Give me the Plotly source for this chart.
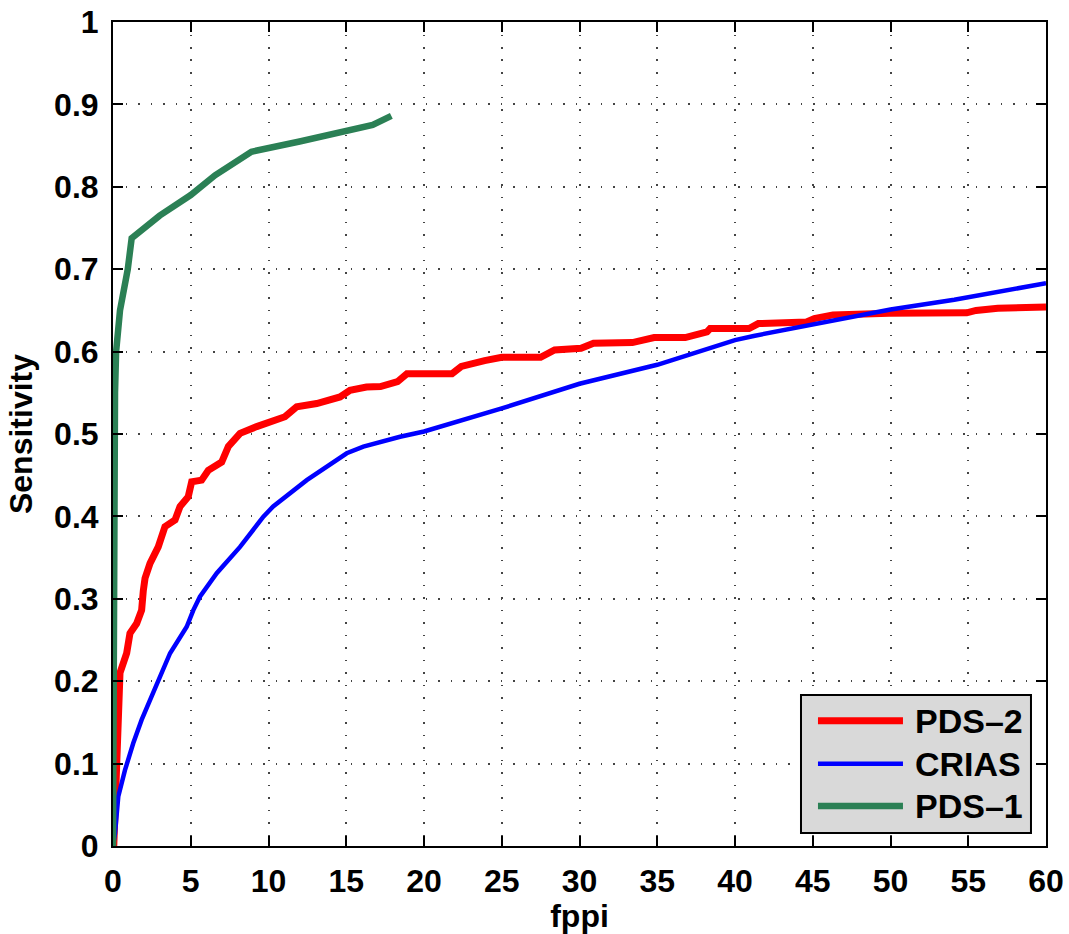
import plotly.graph_objects as go

# ---- data ----
pds2_x = [0.05, 0.13, 0.34, 0.40, 0.45, 0.88, 1.09, 1.52, 1.84, 1.95, 2.06, 2.38, 2.91, 3.34, 3.99,
          4.31, 4.84, 5.06, 5.70, 6.13, 6.99, 7.42, 8.17, 9.24, 10.31, 11.06, 11.81, 13.10, 14.60,
          15.24, 16.30, 17.20, 18.30, 18.90, 21.80, 22.40, 23.90, 25.00, 27.50, 28.40, 30.10, 30.90,
          33.40, 34.80, 36.80, 38.20, 38.40, 40.90, 41.50, 44.60, 45.10, 46.30, 49.90, 54.90, 55.50,
          56.90, 60.00]
pds2_y = [0.000, 0.040, 0.1125, 0.161, 0.210, 0.234, 0.258, 0.270, 0.286, 0.310, 0.325, 0.343, 0.363,
          0.3875, 0.3956, 0.412, 0.424, 0.442, 0.444, 0.456, 0.466, 0.485, 0.5008, 0.509, 0.515,
          0.521, 0.533, 0.537, 0.545, 0.553, 0.557, 0.5575, 0.5636, 0.573, 0.573, 0.582, 0.589,
          0.593, 0.593, 0.602, 0.604, 0.610, 0.611, 0.617, 0.617, 0.624, 0.628, 0.628, 0.634,
          0.636, 0.640, 0.6445, 0.6465, 0.647, 0.650, 0.6526, 0.654]

crias_x = [0.00, 0.13, 0.34, 0.77, 1.30, 1.84, 2.38, 2.91, 3.67, 4.74, 5.16, 5.59, 6.67, 8.17, 9.67,
           10.30, 12.46, 15.03, 16.10, 18.46, 20.00, 25.00, 30.00, 35.00, 40.00, 41.20, 45.05,
           50.00, 54.10, 60.00]
crias_y = [0.000, 0.0154, 0.060, 0.092, 0.1246, 0.153, 0.177, 0.2015, 0.234, 0.266, 0.286, 0.3026,
           0.331, 0.363, 0.3997, 0.412, 0.444, 0.4766, 0.4846, 0.4967, 0.503, 0.531, 0.561, 0.584,
           0.614, 0.619, 0.6336, 0.651, 0.663, 0.683]

pds1_x = [0.00, 0.02, 0.04, 0.07, 0.13, 0.20, 0.45, 0.95, 1.20, 3.00, 5.00, 6.56, 8.90, 12.00, 16.70, 17.90]
pds1_y = [0.000, 0.150, 0.350, 0.500, 0.550, 0.600, 0.650, 0.700, 0.7375, 0.765, 0.790, 0.814,
          0.8426, 0.855, 0.875, 0.886]

series_names = ["PDS\u20132", "CRIAS", "PDS\u20131"]
series_colors = ["#ff0000", "#0000ff", "#2b8055"]
series_widths = [7, 4.5, 6.5]
series_x = [pds2_x, crias_x, pds1_x]
series_y = [pds2_y, crias_y, pds1_y]

x_ticks = list(range(0, 61, 5))
y_ticks = [i / 10 for i in range(0, 11)]
y_tick_text = ["0", "0.1", "0.2", "0.3", "0.4", "0.5", "0.6", "0.7", "0.8", "0.9", "1"]

FONT = "Liberation Sans, Arial, Helvetica, sans-serif"

fig = go.Figure()
for name, col, w, xs, ys in zip(series_names, series_colors, series_widths, series_x, series_y):
    fig.add_trace(go.Scatter(x=xs, y=ys, mode="lines", name=name,
                             line=dict(color=col, width=w), showlegend=False))

axis_common = dict(
    showline=True, linecolor="black", linewidth=2, mirror="ticks",
    ticks="inside", ticklen=10, tickwidth=1.5, tickcolor="black",
    showgrid=True, gridcolor="#444444", gridwidth=1.5, griddash="1.5px,11px",
    zeroline=False, automargin=False,
    tickfont=dict(family=FONT, size=32, color="black", weight="bold"),
)

fig.update_xaxes(range=[0, 60], tickvals=x_ticks, ticklabelstandoff=6,
                 title=dict(text="fppi", standoff=2,
                            font=dict(family=FONT, size=32, color="black", weight="bold")),
                 **axis_common)
fig.update_yaxes(range=[0, 1], tickvals=y_ticks, ticktext=y_tick_text, ticklabelstandoff=6,
                 title=dict(text="Sensitivity", standoff=12,
                            font=dict(family=FONT, size=32, color="black", weight="bold")),
                 **axis_common)

# ---- custom legend (MATLAB style box) ----
shapes = [dict(type="rect", xref="paper", yref="paper", x0=0.7374, x1=0.9839, y0=0.0158, y1=0.1833,
               fillcolor="#d9d9d9", line=dict(color="black", width=2), layer="above")]
annotations = []
legend_rows = [0.1521, 0.0999, 0.0485]
for name, col, w, ly in zip(series_names, series_colors, series_widths, legend_rows):
    shapes.append(dict(type="line", xref="paper", yref="paper", x0=0.7556, x1=0.8467, y0=ly, y1=ly,
                       line=dict(color=col, width=w), layer="above"))
    annotations.append(dict(xref="paper", yref="paper", x=0.8574, y=ly, xanchor="left", yanchor="middle",
                            text=name, showarrow=False,
                            font=dict(family=FONT, size=34, color="black", weight="bold")))

fig.update_layout(
    width=1069, height=934,
    margin=dict(l=113, r=23, t=22, b=88),
    paper_bgcolor="white", plot_bgcolor="white",
    shapes=shapes, annotations=annotations,
    showlegend=False,
)

fig.write_html("out.html")
